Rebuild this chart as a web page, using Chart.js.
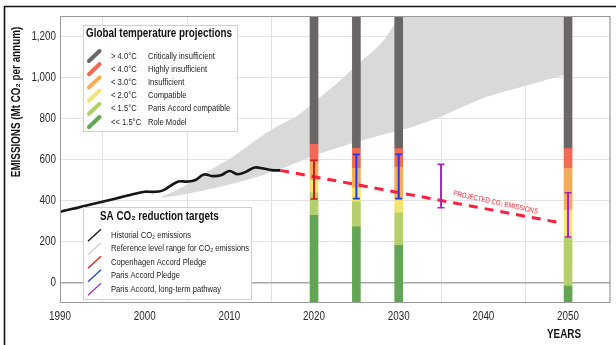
<!DOCTYPE html>
<html>
<head>
<meta charset="utf-8">
<script src="https://cdn.jsdelivr.net/npm/chart.js@4"></script>
<style>
  html, body { margin: 0; padding: 0; background: #fff; }
  canvas { display: block; }
</style>
</head>
<body>
<canvas id="c" width="616" height="345"></canvas>
<script>
const FONT = "'Liberation Sans', Arial, sans-serif";
const NARROW = 0.82; // horizontal squeeze giving a narrow sans face

// Historical CO2 emissions (Mt per annum)
const histYears = [1990, 1991, 1992, 1993, 1994, 1995, 1996, 1997, 1998, 1999, 2000, 2001, 2002, 2003,
                   2004, 2005, 2006, 2007, 2008, 2009, 2010, 2011, 2012, 2013, 2014, 2015, 2016];
const histValues = [345, 355, 364, 374, 384, 394, 404, 414, 424, 434, 443, 442, 447, 470,
                    493, 492, 500, 527, 519, 523, 544, 528, 541, 561, 556, 548, 547];

// Reference level range for CO2 emissions
const refYears = [2002, 2004, 2006, 2008, 2010, 2012, 2014, 2016, 2018, 2020, 2023, 2025, 2028, 2030, 2032, 2035, 2040, 2045, 2050];
const refUpper = [418, 455, 505, 555, 602, 660, 720, 770, 812, 880, 982, 1060, 1170, 1290, 1400, 1400, 1400, 1400, 1400];
const refLower = [415, 425, 440, 458, 478, 500, 525, 552, 585, 620, 660, 685, 720, 740, 765, 810, 900, 960, 1017];

// Projected CO2 emissions
const projYears = [2016, 2049];
const projValues = [547, 292];

// Rating bands per assessment year (boundaries between categories)
const barYears = [2020, 2025, 2030, 2050];
const barBottom = [-100, -100, -100, -100];
const roleModelTop = [328, 271, 181, -17];
const parisCompatTop = [437, 393, 340, 216];
const compatibleTop = [498, 462, 406, 354];
const insufficientTop = [589, 557, 563, 557];
const highlyTop = [674, 655, 653, 653];
const barTop = [1300, 1300, 1300, 1300];

// Pledge ranges
const copenhagenYears = [2020];
const copenhagenLow = [407];
const copenhagenHigh = [596];
const parisYears = [2025, 2030];
const parisLow = [409, 409];
const parisHigh = [625, 625];
const longTermYears = [2035, 2050];
const longTermLow = [365, 222];
const longTermHigh = [576, 438];

// Axis ticks
const xTicks = [1990, 2000, 2010, 2020, 2030, 2040, 2050];
const yTicks = [0, 200, 400, 600, 800, 1000, 1200];
const yTickLabels = ['0', '200', '400', '600', '800', '1,000', '1,200'];

// Legend content
const tempRanges = ['> 4.0°C', '< 4.0°C', '< 3.0°C', '< 2.0°C', '< 1.5°C', '<< 1.5°C'];
const tempNames = ['Critically insufficient', 'Highly insufficient', 'Insufficient', 'Compatible', 'Paris Accord compatible', 'Role Model'];
const tempColors = ['#6b6666', '#f06a55', '#f5ab5a', '#f2e46e', '#b4cf6b', '#62a655'];
const targetNames = ['Historial CO₂ emissions', 'Reference level range for CO₂ emissions', 'Copenhagen Accord Pledge', 'Paris Accord Pledge', 'Paris Accord, long-term pathway'];
const targetColors = ['#111111', '#cfcfcf', '#d02020', '#2040ff', '#a030c0'];

const pts = (xs, ys) => xs.map((x, i) => ({ x: x, y: ys[i] }));
const range = (lo, hi) => barYears.map((x, i) => ({ x: x, y: [lo[i], hi[i]] }));

const bandLayers = [
  [barBottom, roleModelTop, tempColors[5]],
  [roleModelTop, parisCompatTop, tempColors[4]],
  [parisCompatTop, compatibleTop, tempColors[3]],
  [compatibleTop, insufficientTop, tempColors[2]],
  [insufficientTop, highlyTop, tempColors[1]],
  [highlyTop, barTop, tempColors[0]]
];

function errorBar(years, lows, highs, color) {
  return years.map((yr, i) => ({
    type: 'line',
    data: [{ x: yr, y: lows[i] }, { x: yr, y: highs[i] }],
    borderColor: color,
    borderWidth: 2,
    pointStyle: 'line',
    pointRadius: 3.5,
    pointBorderWidth: 1.6,
    pointBorderColor: color,
    pointBackgroundColor: color,
    fill: false,
    order: 1
  }));
}

const datasets = [
  {
    type: 'line', data: pts(refYears, refUpper), borderWidth: 0, pointRadius: 0,
    fill: '+1', backgroundColor: '#d9d9d9', tension: 0.25, order: 10
  },
  {
    type: 'line', data: pts(refYears, refLower), borderWidth: 0, pointRadius: 0,
    fill: false, tension: 0.25, order: 10
  },
  ...bandLayers.map(([lo, hi, color]) => ({
    type: 'bar', data: range(lo, hi), backgroundColor: color, borderWidth: 0,
    grouped: false, barThickness: 8, order: 5
  })),
  {
    type: 'line', data: pts(histYears, histValues), borderColor: '#161616', borderWidth: 2.6,
    pointRadius: 0, tension: 0.4, fill: false, order: 3
  },
  {
    type: 'line', data: pts(projYears, projValues), borderColor: '#ff1f3d', borderWidth: 3,
    borderDash: [9, 7], pointRadius: 0, fill: false, order: 2
  },
  ...errorBar(copenhagenYears, copenhagenLow, copenhagenHigh, '#c81e1e'),
  ...errorBar(parisYears, parisLow, parisHigh, '#1f3cf5'),
  ...errorBar(longTermYears, longTermLow, longTermHigh, '#9d2ab8')
];

// Draws text in the narrow face, centred vertically on y
function narrowText(ctx, text, x, y, font, color, align, angle) {
  ctx.save();
  ctx.font = font;
  ctx.fillStyle = color;
  ctx.textAlign = align || 'left';
  ctx.textBaseline = 'middle';
  ctx.translate(x, y);
  if (angle) ctx.rotate(angle);
  ctx.scale(NARROW, 1);
  ctx.fillText(text, 0, 0);
  ctx.restore();
}

// Frame, plot border, tick labels, legends and annotation text
const decorations = {
  id: 'decorations',
  beforeDraw(chart) {
    const ctx = chart.ctx;
    ctx.save();
    ctx.fillStyle = '#fff';
    ctx.fillRect(0, 0, chart.width, chart.height);
    ctx.strokeStyle = '#111';
    ctx.lineWidth = 1.6;
    ctx.beginPath();
    ctx.moveTo(4.5, chart.height);
    ctx.lineTo(4.5, 6.5);
    ctx.lineTo(chart.width, 6.5);
    ctx.stroke();
    ctx.restore();
  },
  afterDatasetsDraw(chart) {
    const ctx = chart.ctx;
    const a = chart.chartArea;
    const x = chart.scales.x, y = chart.scales.y;
    ctx.save();
    ctx.strokeStyle = '#9a9a9a';
    ctx.lineWidth = 1;
    ctx.strokeRect(a.left + 0.5, a.top + 0.5, a.right - a.left - 1, a.bottom - a.top - 1);
    ctx.restore();

    // label along the projection line
    const x0 = x.getPixelForValue(projYears[0]), y0 = y.getPixelForValue(projValues[0]);
    const x1 = x.getPixelForValue(projYears[1]), y1 = y.getPixelForValue(projValues[1]);
    const t = 0.765;
    const ang = Math.atan2(y1 - y0, x1 - x0) + 0.03;
    const cx = x0 + (x1 - x0) * t + 8 * Math.sin(ang);
    const cy = y0 + (y1 - y0) * t - 8 * Math.cos(ang);
    narrowText(ctx, 'PROJECTED CO₂ EMISSIONS', cx, cy, '7.5px ' + FONT, '#ff2a40', 'center', ang);
  },
  afterDraw(chart) {
    const ctx = chart.ctx;
    const a = chart.chartArea;
    const x = chart.scales.x, y = chart.scales.y;
    const tickFont = '12px ' + FONT;

    // tick labels
    xTicks.forEach(v => narrowText(ctx, String(v), x.getPixelForValue(v), a.bottom + 14, tickFont, '#2a2a2a', 'center'));
    yTicks.forEach((v, i) => narrowText(ctx, yTickLabels[i], a.left - 4, y.getPixelForValue(v), tickFont, '#2a2a2a', 'right'));

    ctx.save();
    // Global temperature projections
    ctx.fillStyle = '#fff';
    ctx.strokeStyle = '#d0d0d0';
    ctx.lineWidth = 1;
    ctx.fillRect(83, 25, 154, 106);
    ctx.strokeRect(83.5, 25.5, 154, 106);
    narrowText(ctx, 'Global temperature projections', 86, 34, 'bold 12px ' + FONT, '#111');
    tempRanges.forEach((r, i) => {
      const yy = 56 + i * 13.2;
      ctx.strokeStyle = tempColors[i];
      ctx.lineWidth = 4;
      ctx.lineCap = 'round';
      ctx.beginPath();
      ctx.moveTo(89, yy + 5);
      ctx.lineTo(99.5, yy - 5);
      ctx.stroke();
      narrowText(ctx, r, 111, yy, '9.3px ' + FONT, '#222');
      narrowText(ctx, tempNames[i], 148, yy, '9.3px ' + FONT, '#222');
    });

    // SA CO2 reduction targets
    ctx.fillStyle = '#fff';
    ctx.strokeStyle = '#d0d0d0';
    ctx.lineWidth = 1;
    ctx.fillRect(83, 207, 168, 92);
    ctx.strokeRect(83.5, 207.5, 168, 92);
    narrowText(ctx, 'SA CO₂ reduction targets', 100, 216.5, 'bold 12px ' + FONT, '#111');
    targetNames.forEach((n, i) => {
      const yy = 235.3 + i * 13.5;
      ctx.strokeStyle = targetColors[i];
      ctx.lineWidth = 1.3;
      ctx.lineCap = 'butt';
      ctx.beginPath();
      ctx.moveTo(88, yy + 6);
      ctx.lineTo(101, yy - 6);
      ctx.stroke();
      narrowText(ctx, n, 111, yy, '9.3px ' + FONT, '#222');
    });
    ctx.restore();

    // axis titles
    narrowText(ctx, 'YEARS', 564, 335, 'bold 12px ' + FONT, '#111', 'center');
    narrowText(ctx, 'EMISSIONS (Mt CO₂ per annum)', 17, 102, 'bold 12px ' + FONT, '#111', 'center', -Math.PI / 2);
  }
};

new Chart(document.getElementById('c'), {
  type: 'bar',
  data: { datasets: datasets },
  options: {
    responsive: false,
    animation: false,
    devicePixelRatio: 1,
    layout: { padding: { top: 16, right: 4, left: 0, bottom: 0 } },
    plugins: { legend: { display: false }, tooltip: { enabled: false } },
    scales: {
      x: {
        type: 'linear', min: 1990, max: 2055, offset: false,
        afterBuildTicks: s => { s.ticks = xTicks.map(v => ({ value: v })); },
        afterFit: s => { s.height = 42; },
        ticks: { display: false, autoSkip: false },
        grid: { color: '#e2e2e2', drawTicks: false },
        border: { display: false }
      },
      y: {
        min: -100, max: 1300,
        afterBuildTicks: s => { s.ticks = yTicks.map(v => ({ value: v })); },
        afterFit: s => { s.width = 60; },
        ticks: { display: false },
        grid: {
          drawTicks: false,
          color: c => (c.tick && c.tick.value === 0) ? '#a8a8a8' : '#e2e2e2',
          lineWidth: c => (c.tick && c.tick.value === 0) ? 1.5 : 1
        },
        border: { display: false }
      }
    }
  },
  plugins: [decorations]
});
</script>
</body>
</html>
